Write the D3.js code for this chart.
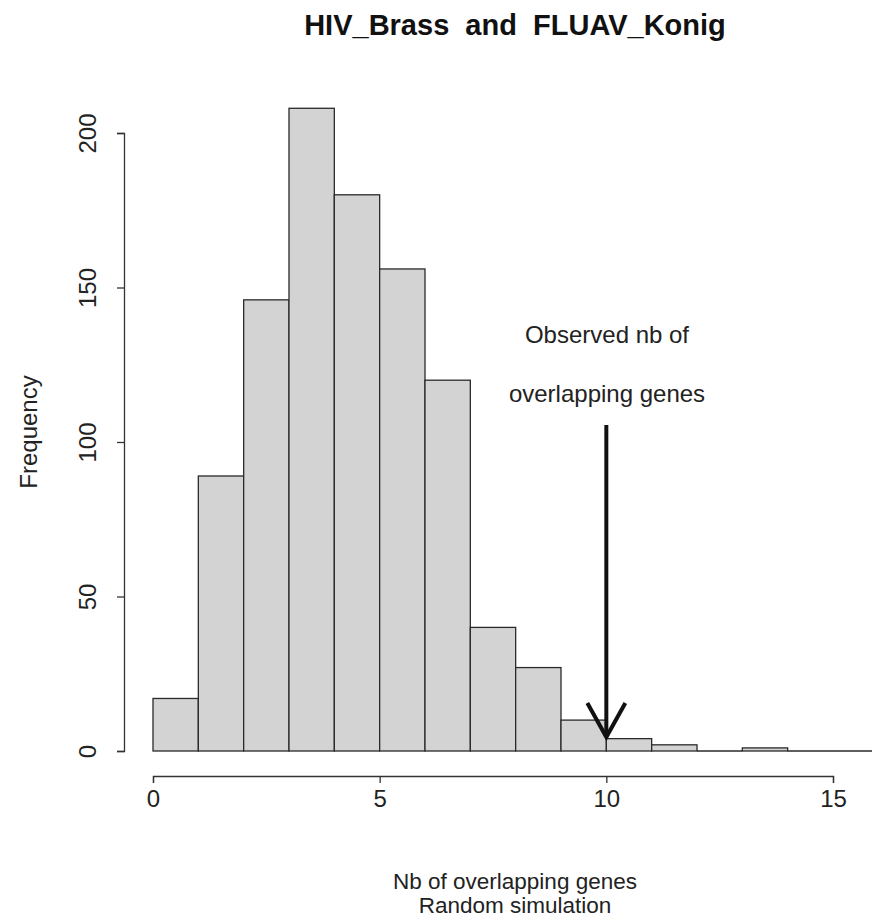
<!DOCTYPE html>
<html><head><meta charset="utf-8">
<script src="https://cdn.jsdelivr.net/npm/d3@7"></script>
<style>body{margin:0;background:#fff}svg{display:block}text{font-family:"Liberation Sans",Arial,sans-serif}</style>
</head><body><svg id="c" width="872" height="921"></svg>
<script>
const binStarts = [0,1,2,3,4,5,6,7,8,9,10,11,12,13,14,15,16];
const counts    = [17,89,146,208,180,156,120,40,27,10,4,2,0,1,0,0,0];
const xTicks = [0,5,10,15];
const yTicks = [0,50,100,150,200];
const title = "HIV_Brass  and  FLUAV_Konig";
const xLabel = ["Nb of overlapping genes","Random simulation"];
const yLabel = "Frequency";
const annot = ["Observed nb of","overlapping genes"];
const observed = 10;

const FONT = "Liberation Sans, Arial, sans-serif";
const svg = d3.select("#c");
const x = d3.scaleLinear().domain([0,15]).range([153,833]);
const y = d3.scaleLinear().domain([0,200]).range([751,133]);

const bins = binStarts.map((b,i)=>({b, c:counts[i]}));
svg.append("g").selectAll("rect").data(bins.filter(d=>d.c>0)).join("rect")
  .attr("x", d=>x(d.b)).attr("width", d=>x(d.b+1)-x(d.b))
  .attr("y", d=>y(d.c)).attr("height", d=>y(0)-y(d.c))
  .attr("fill","#d3d3d3").attr("stroke","#2a2a2a").attr("stroke-width",1.3);
svg.append("g").selectAll("line").data(bins.filter(d=>d.c===0)).join("line")
  .attr("x1", d=>x(d.b)).attr("x2", d=>x(d.b+1)).attr("y1", y(0)).attr("y2", y(0))
  .attr("stroke","#2a2a2a").attr("stroke-width",1.3);

const xa = svg.append("g").attr("transform","translate(0,776)")
  .call(d3.axisBottom(x).tickValues(xTicks).tickSize(7).tickPadding(7).tickFormat(d3.format("d")));
xa.select(".domain").attr("stroke","#333").attr("stroke-width",1.3);
xa.selectAll("line").attr("stroke","#333").attr("stroke-width",1.3);
xa.selectAll("text").attr("font-size",24).attr("fill","#222").attr("font-family",FONT);

const ya = svg.append("g").attr("transform","translate(124,0)")
  .call(d3.axisLeft(y).tickValues(yTicks).tickSize(7));
ya.select(".domain").attr("stroke","#333").attr("stroke-width",1.3);
ya.selectAll(".tick line").attr("stroke","#333").attr("stroke-width",1.3);
ya.selectAll(".tick text").remove();
ya.selectAll(".tick").append("text")
  .attr("transform","rotate(-90)")
  .attr("x",0).attr("y",-28).attr("text-anchor","middle")
  .attr("font-size",24).attr("fill","#222").attr("font-family",FONT)
  .text(d=>d);

svg.append("text").attr("x",515).attr("y",35).attr("text-anchor","middle")
  .attr("font-size",29).attr("font-weight","bold").attr("fill","#111")
  .style("white-space","pre").text(title);

svg.append("text").attr("transform","translate(37,432) rotate(-90)").attr("text-anchor","middle")
  .attr("font-size",24).attr("fill","#222").text(yLabel);

svg.selectAll(".xl").data(xLabel).join("text").attr("class","xl")
  .attr("x",515).attr("y",(d,i)=>889+i*24).attr("text-anchor","middle")
  .attr("font-size",22.5).attr("fill","#222").text(d=>d);

svg.selectAll(".an").data(annot).join("text").attr("class","an")
  .attr("x",607).attr("y",(d,i)=>343+i*59).attr("text-anchor","middle")
  .attr("font-size",24).attr("fill","#222").text(d=>d);

const ax = x(observed), yTop = 425, yTip = y(4.5);
svg.append("line").attr("x1",ax).attr("x2",ax).attr("y1",yTop).attr("y2",yTip)
  .attr("stroke","#111").attr("stroke-width",4);
svg.append("path").attr("d",`M${ax-19},${yTip-34}L${ax},${yTip}L${ax+19},${yTip-34}`)
  .attr("fill","none").attr("stroke","#111").attr("stroke-width",4);
</script></body></html>
